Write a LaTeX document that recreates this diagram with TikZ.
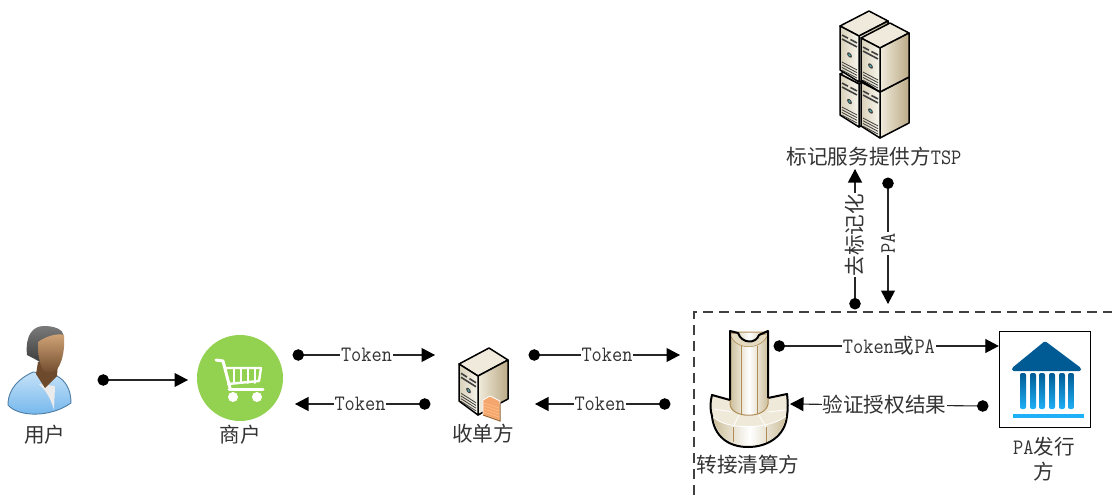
\documentclass[tikz,border=0pt]{standalone}
\usepackage{fontspec}
\setmainfont{Noto Sans CJK SC}
\newfontfamily\latf[FakeStretch=0.9]{Latin Modern Mono}
\usetikzlibrary{arrows.meta,calc}
\newcommand\tl[1]{{\latf\fontsize{22}{22}\selectfont #1}}
\definecolor{txt}{HTML}{333333}
\definecolor{tanline}{HTML}{B08D57}
\definecolor{srvtop}{HTML}{EFEADB}
\definecolor{srvfrontA}{HTML}{D8D0B8}
\definecolor{srvfrontB}{HTML}{F8F6EE}
\definecolor{srvsideA}{HTML}{F0EBDC}
\definecolor{srvsideB}{HTML}{BBAA86}
\definecolor{bankdark}{HTML}{005B94}
\definecolor{banklight}{HTML}{1FB0F7}
\definecolor{cartgreen}{HTML}{93D150}
\definecolor{creamA}{HTML}{E3DAC0}
\definecolor{creamB}{HTML}{CDBF9B}
\definecolor{shirtA}{HTML}{C5E2F8}
\definecolor{shirtB}{HTML}{6FB4EC}
\definecolor{skinA}{HTML}{D3A679}
\definecolor{skinB}{HTML}{6E4A2C}
\definecolor{hairA}{HTML}{7A7A7A}
\definecolor{hairB}{HTML}{3E3E3E}
\tikzset{
  x=1pt,y=-1pt,
  conn/.style={line width=1.1pt,black!85,{Circle[length=11.5pt,black]}-{Triangle[length=13.5pt,width=14pt,black]},shorten <=-5.5pt,shorten >=0pt},
  lab/.style={fill=white,inner sep=1pt,text=txt,font=\fontsize{20.6}{24}\selectfont},
  iconcap/.style={text=txt,inner sep=0pt,align=center,font=\fontsize{20.6}{25}\selectfont},
  outl/.style={draw=black,line width=1.5pt,line join=round},
}
% tower: #1 position of the top front corner, #2 height, #3 left dx, #4 left dy, #5 right dx, #6 right dy
\newcommand\tower[6]{%
\begin{scope}[shift={#1}]
  \path[outl,fill=srvtop] (0,0) -- (#3,#4) -- ({#3+#5},{#4+#6}) -- (#5,#6) -- cycle;
  \path[outl,left color=srvsideA,right color=srvsideB] (0,0) -- (#5,#6) -- (#5,{#6+#2}) -- (0,#2) -- cycle;
  \path[outl,left color=srvfrontA,right color=srvfrontB] (0,0) -- (#3,#4) -- (#3,{#4+#2-2}) -- (0,#2) -- cycle;
  \begin{scope}[shift={(#3,#4)},yslant={(#4)/(#3)*-1}]
    \draw[black!75,line width=1.6pt] (2,8) -- ({-(#3)*0.42},8);
    \draw[black!75,line width=1.6pt] ({-(#3)*0.55},8) -- ({-(#3)-2},8);
    \draw[black!75,line width=1.6pt] (2,12) -- ({-(#3)-2},12);
    \fill[black!75] ({-(#3)*0.5},{(#2)*0.5+1}) circle (2.4);
    \fill[teal!70!white] ({-(#3)*0.5},{(#2)*0.5+1}) circle (1.3);
    \foreach \v in {0,...,3}
      \draw[black!75,line width=0.8pt] (2,{#2-11+\v*2.7}) -- ({-(#3)-2},{#2-11+\v*2.7});
  \end{scope}
\end{scope}}
\begin{document}
\begin{tikzpicture}
\useasboundingbox (0,0) rectangle (1112,495);
\fill[white] (0,0) rectangle (1112,495);

% dashed boundary
\coordinate (dashbottom) at (694,495);
\coordinate (dashcorner) at (694,312);
\coordinate (dashright) at (1112,312);
\draw[black!75,line width=1.4pt,dash pattern=on 10pt off 6pt] (dashbottom) -- (dashcorner) -- (dashright);

% ---- user
\begin{scope}
  % body
  \path[draw=shirtB!70!black,line width=.9pt,top color=shirtA,bottom color=shirtB]
     (33,372) .. controls (20,378) and (8,388) .. (8,405) .. controls (18,417) and (50,418) .. (71,403)
     .. controls (71,390) and (66,380) .. (55,375) -- cycle;
  \fill[white!92!black] (39,384) -- (55,386) -- (54,410) .. controls (50,396) and (45,390) .. (39,384) -- cycle;
  % hair
  \path[top color=hairA,bottom color=hairB] (27,355) .. controls (25,335) and (33,326) .. (44,326)
     .. controls (54,326) and (63,329) .. (64,336) -- (44,348) -- (40,362) -- (33,358) -- cycle;
  % neck and face
  \path[fill=skinB] (38,362) -- (36,374) -- (45,388) -- (57,376) -- (58,362) -- cycle;
  \path[top color=skinA,bottom color=skinB] (38,342) .. controls (46,336) and (58,333) .. (64,335)
     .. controls (65,346) and (63,358) .. (60,364) .. controls (57,372) and (50,374) .. (45,372)
     .. controls (41,368) and (38,360) .. (38,342) -- cycle;
\end{scope}
\node[iconcap] (userlabel) at (45,435) {用户};

% ---- merchant
\node[circle,minimum size=86pt,inner sep=0pt,fill=cartgreen] (merchant) at (240,378) {};
\begin{scope}[white,line cap=round,line join=round]
  \draw[line width=3pt] (216,360) -- (223,361) -- (230,388);
  \draw[line width=3pt] (229,389) -- (263,389);
  \draw[line width=2.4pt] (225,368) -- (261,368) -- (259,381) -- (228,384);
  \foreach \x in {234,241,248,255} \draw[line width=2pt] (\x,368) -- (\x,383);
  \fill (233,397) circle (5);
  \fill (257,397) circle (5);
\end{scope}
\node[iconcap] (merchantlabel) at (240,435) {商户};

% ---- acquirer
\tower{(478,376)}{39}{-19}{-12}{30}{-16}
\path[draw=white,line width=.8pt,fill={rgb,255:red,244;green,166;blue,110}] (483,400) -- (490,396) -- (500,401) -- (500,421) -- (483,415) -- cycle;
\foreach \v in {0,...,4} \draw[orange!50!white,line width=.7pt] (484,{403+\v*3}) -- (499,{408+\v*3});
\draw[brown!80!black,line width=1pt] (500,404) -- (500,421) -- (483,415);
\node[iconcap] (acquirerlabel) at (483,434) {收单方};

% ---- TSP servers
\tower{(859,84)}{43}{-19}{-10}{29}{-15}
\tower{(859,36)}{46}{-19}{-10}{29}{-15}
\tower{(880,92)}{46}{-19}{-10}{29}{-15}
\tower{(880,48)}{44}{-19}{-10}{29}{-15}
\node[iconcap] (tsplabel) at (874,157) {标记服务提供方\tl{TSP}};

% ---- switch
\path[outl,line width=2pt,fill=creamA!60!white]
  (712,395) -- (730,400) -- (768,398) -- (787,394) .. controls (788,402) and (788,410) .. (787,416)
  .. controls (785,436) and (768,447) .. (748,447) .. controls (728,447) and (714,436) .. (712,416)
  .. controls (710,410) and (710,402) .. (712,395) -- cycle;
\path[left color=creamB,right color=creamB,middle color=white]
  (713.5,417) .. controls (725,430) and (770,430) .. (786,416)
  .. controls (783,435) and (767,445.5) .. (748,445.5) .. controls (729,445.5) and (716,435) .. (713.5,417) -- cycle;
\draw[tanline,line width=.8pt] (733,427) -- (733,442);
\draw[tanline,line width=.8pt] (766,427) -- (766,442);
\draw[white,line width=.8pt] (714,409) -- (732,412);
\draw[white,line width=.8pt] (739,415) -- (733,427);
\draw[white,line width=.8pt] (759,415) -- (766,427);
\draw[white,line width=.8pt] (785,410) -- (768,412);
\draw[white,line width=.8pt] (713.5,417) .. controls (725,430) and (770,430) .. (786,416);
\path[draw=tanline,line width=1pt,left color=creamB,right color=creamB,middle color=white]
  (730,332) -- (730,404) .. controls (731,419) and (766,419) .. (768,404) -- (768,332) -- cycle;
\draw[tanline,line width=.8pt] (741,346) -- (741,414);
\draw[tanline,line width=.8pt] (757,346) -- (757,414);
\path[fill=creamA,draw=tanline,line width=.6pt] (730,334) .. controls (735,351) and (762,351) .. (768,334) -- (759,335) .. controls (756,344) and (742,344) .. (738,333) -- cycle;
\draw[black,line width=2pt,line join=round] (730,400) -- (730,331) -- (738,333) .. controls (742,344) and (756,344) .. (759,335) -- (768,331) -- (768,398);
\node[iconcap] (switchlabel) at (748,465) {转接清算方};

% ---- issuer
\node[draw=black,line width=1.4pt,fill=white,minimum width=91pt,minimum height=96pt,inner sep=0pt] (issuer) at (1045,379.5) {};
\fill[rounded corners=1.5pt,bankdark] (1045,341) -- (1081,368) -- (1081,371) -- (1012,371) -- (1012,368) -- cycle;
\foreach \x in {1023,1033,1042,1052,1062,1071}
  \path[rounded corners=2pt,top color=bankdark,bottom color=banklight] ({\x-3},373) rectangle ({\x+3},409);
\fill[banklight] (1013,414) rectangle (1084,418);
\node[iconcap] (issuerlabel) at (1044,459.5) {\tl{PA}发行\\方};

% ---- connector ends
\coordinate (c1s) at (103,380); \coordinate (c1e) at (188,380);
\coordinate (c2s) at (298,355); \coordinate (c2e) at (435,355);
\coordinate (c3s) at (425,404); \coordinate (c3e) at (295,404);
\coordinate (c4s) at (534,355); \coordinate (c4e) at (680,355);
\coordinate (c5s) at (665,404); \coordinate (c5e) at (535,404);
\coordinate (c6s) at (779,346);
\coordinate (c7s) at (983,406); \coordinate (c7e) at (790,404);
\coordinate (c8s) at (855,304); \coordinate (c8e) at (855,169);
\coordinate (c9s) at (888,183); \coordinate (c9e) at (888,304);

\draw[conn] (c1s) -- (c1e);
\draw[conn] (c2s) -- node[lab,pos=.5] (t2) {\tl{Token}} (c2e);
\draw[conn] (c3s) -- node[lab,pos=.5] (t3) {\tl{Token}} (c3e);
\draw[conn] (c4s) -- node[lab,pos=.5] (t4) {\tl{Token}} (c4e);
\draw[conn] (c5s) -- node[lab,pos=.5] (t5) {\tl{Token}} (c5e);
\draw[conn] (c6s) -- node[lab,pos=.5] (t6) {\tl{Token}或\tl{PA}} (c6s -| issuer.west);
\draw[conn] (c7s) -- node[lab,pos=.51] (t7) {验证授权结果} (c7e);
\draw[conn] (c8s) -- node[lab,pos=.51,rotate=90] (t8) {去标记化} (c8e);
\draw[conn] (c9s) -- node[lab,pos=.5,rotate=90] (t9) {\tl{PA}} (c9e);
\end{tikzpicture}
\end{document}
